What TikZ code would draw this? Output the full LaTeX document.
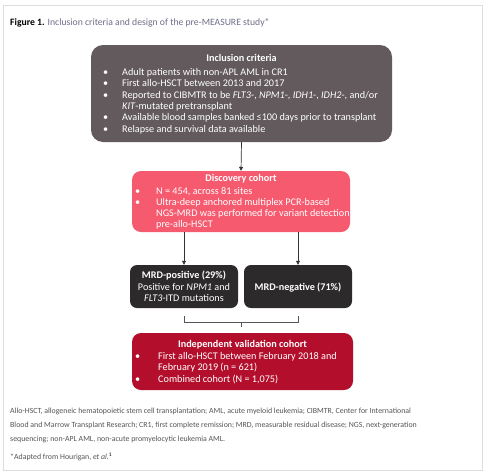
\documentclass[tikz,border=0pt]{standalone}
\usepackage{fontspec}
\setmainfont{Carlito}
\usetikzlibrary{arrows.meta,calc}
\definecolor{inclc}{HTML}{625A5D}
\definecolor{discc}{HTML}{F65A6F}
\definecolor{mrdc}{HTML}{2D2A2B}
\definecolor{validc}{HTML}{B30F2C}
\definecolor{capc}{HTML}{6E6E88}
\definecolor{footc}{HTML}{555555}
\definecolor{framec}{HTML}{DDDDDD}
\definecolor{arrc}{HTML}{333333}
\newcommand\bulitem[2]{\noindent\makebox[#1][l]{•}#2\par}
\tikzset{
  box/.style={rectangle, rounded corners=#1, inner sep=0pt, draw=none},
  txt/.style={text=white, inner sep=0pt, font=\fontsize{10.2}{11.3}\selectfont},
  ttl/.style={txt, font=\fontsize{10.2}{11.3}\selectfont\bfseries, anchor=base},
  conn/.style={draw=arrc, line width=0.7pt, -{Triangle[length=4pt,width=4pt]}},
  brk/.style={draw=footc, line width=0.7pt},
  foot/.style={text=footc, inner sep=0pt, anchor=base west, font=\fontsize{7.85}{9}\selectfont}
}
\begin{document}
\begin{tikzpicture}[x=1pt,y=-1pt]
\useasboundingbox (0,0) rectangle (486,474);
\fill[white] (0,0) rectangle (486,474);
\draw[framec, line width=0.8pt] (3,5) rectangle (482,470);

% caption
\node[inner sep=0pt, anchor=base west, font=\fontsize{9.7}{11}\selectfont] (cap) at (10,25)
  {\textbf{Figure 1.} {\color{capc}Inclusion criteria and design of the pre-MEASURE study*}};

% boxes
\node[box=12pt, fill=inclc, minimum width=301pt, minimum height=97pt] (incl) at (241.5,93.5) {};
\node[box=9pt, fill=discc, minimum width=218pt, minimum height=61pt] (disc) at (241,201.5) {};
\node[box=7pt, fill=mrdc, minimum width=108pt, minimum height=43pt] (mpos) at (184,286.5) {};
\node[box=7pt, fill=mrdc, minimum width=108pt, minimum height=43pt] (mneg) at (298,286.5) {};
\node[box=9pt, fill=validc, minimum width=221pt, minimum height=57pt] (valid) at (242.5,361.5) {};

% inclusion text
\node[ttl] (incl-t) at (241.5,61) {Inclusion criteria};
\node[txt, anchor=base west] (incl-l) at (103,75.5) {\parbox[t]{320pt}{\raggedright
  \bulitem{19pt}{Adult patients with non-APL AML in CR1}
  \bulitem{19pt}{First allo-HSCT between 2013 and 2017}
  \bulitem{19pt}{Reported to CIBMTR to be \textit{FLT3}-, \textit{NPM1}-, \textit{IDH1}-, \textit{IDH2}-, and/or\\\hspace*{19pt}\textit{KIT}-mutated pretransplant}
  \bulitem{19pt}{Available blood samples banked ≤100 days prior to transplant}
  \bulitem{19pt}{Relapse and survival data available}}};

% discovery text
\node[ttl] (disc-t) at (241,181) {Discovery cohort};
\node[txt, anchor=base west] (disc-l) at (135,194) {\parbox[t]{260pt}{\raggedright
  \bulitem{21pt}{N = 454, across 81 sites}
  \bulitem{21pt}{Ultra-deep anchored multiplex PCR-based\\\hspace*{21pt}NGS-MRD was performed for variant detection\\\hspace*{21pt}pre-allo-HSCT}}};

% MRD text
\node[ttl] (mpos-t) at (184,278) {MRD-positive (29\%)};
\node[txt, anchor=base] (mpos-l) at (184,290) {\parbox[t]{104pt}{\centering Positive for \textit{NPM1} and\\\textit{FLT3}-ITD mutations}};
\node[ttl] (mneg-t) at (298,290) {MRD-negative (71\%)};

% validation text
\node[ttl] (valid-t) at (242.5,347.5) {Independent validation cohort};
\node[txt, anchor=base west] (valid-l) at (135,359.5) {\parbox[t]{260pt}{\raggedright
  \bulitem{23pt}{First allo-HSCT between February 2018 and\\\hspace*{23pt}February 2019 (n = 621)}
  \bulitem{23pt}{Combined cohort (N = 1,075)}}};

% connectors
\draw[conn] (incl.south) -- (disc.north);
\draw[conn] (mpos.north |- disc.south) -- (mpos.north);
\draw[conn] (mneg.north |- disc.south) -- (mneg.north);
\coordinate (bra) at ($(mpos.south)+(0,8)$);
\coordinate (brb) at ($(mneg.south)+(0,8)$);
\coordinate (brm) at ($(bra)!0.5!(brb)+(0,6)$);
\draw[brk] (bra) -- ++(0,6) -| (brb);
\draw[brk] (brm) -- ($(brm)+(0,5)$);

% footnotes
\node[foot] (f1) at (10,413) {Allo-HSCT, allogeneic hematopoietic stem cell transplantation; AML, acute myeloid leukemia; CIBMTR, Center for International};
\node[foot] (f2) at (10,427) {Blood and Marrow Transplant Research; CR1, first complete remission; MRD, measurable residual disease; NGS, next-generation};
\node[foot] (f3) at (10,441) {sequencing; non-APL AML, non-acute promyelocytic leukemia AML.};
\node[foot] (f4) at (10,459) {*Adapted from Hourigan, \textit{et al.}\textsuperscript{\color{black}1}};
\end{tikzpicture}
\end{document}
